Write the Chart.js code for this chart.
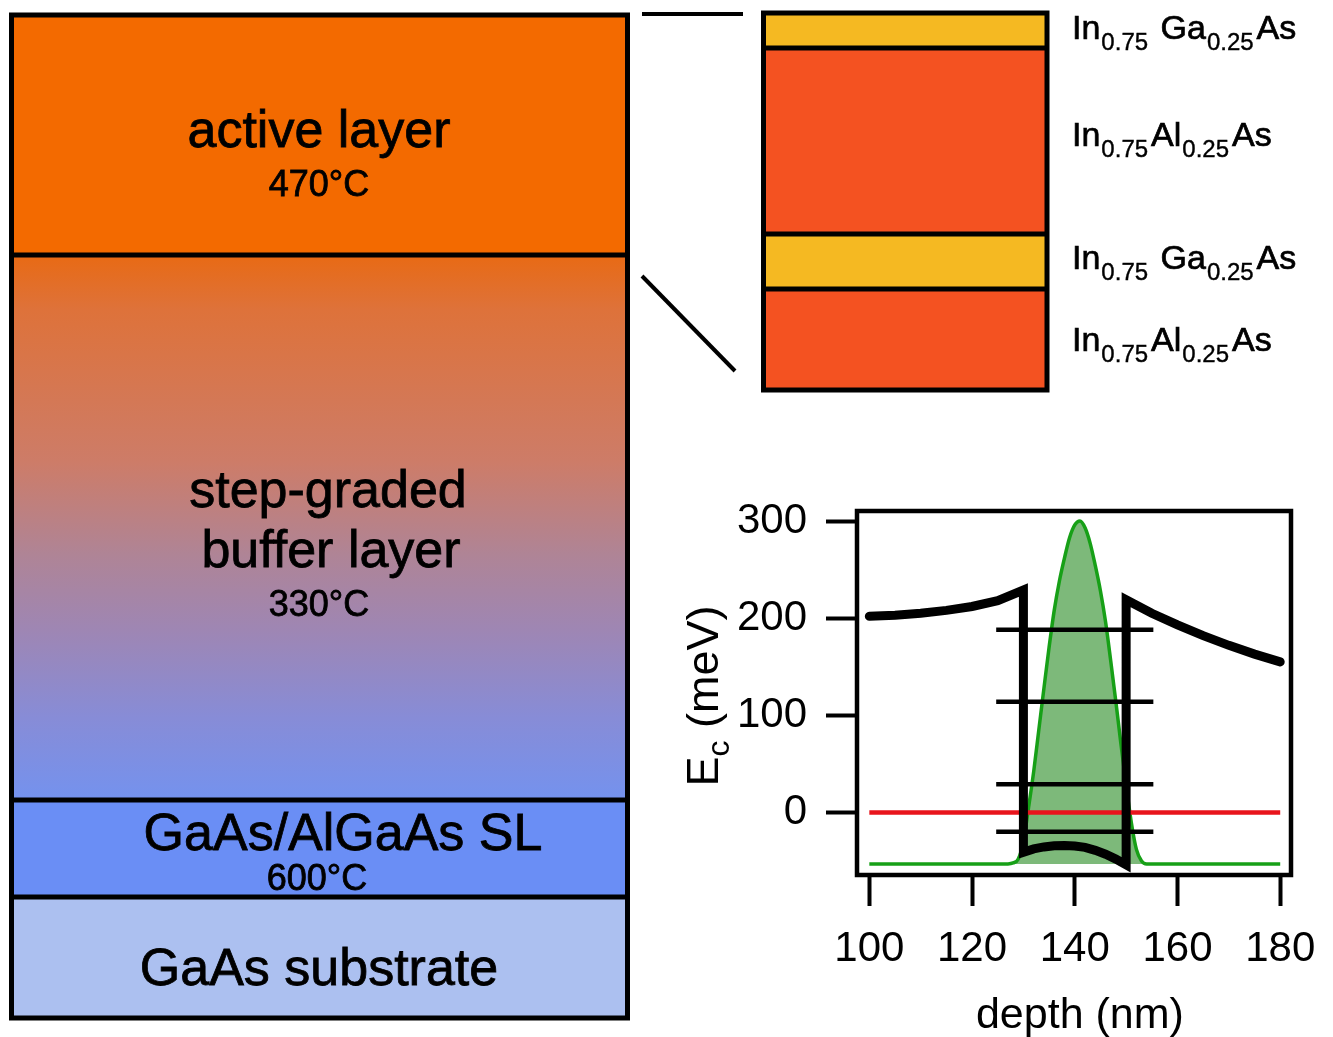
<!DOCTYPE html>
<html lang="en">
<head>
  <meta charset="UTF-8">
  <title>InAlAs/InGaAs heterostructure and conduction band</title>
  <script src="https://cdn.jsdelivr.net/npm/chart.js"></script>
  <style>
    html, body {
      margin: 0;
      padding: 0;
      background: #fff;
    }
    body {
      width: 1333px;
      height: 1037px;
      position: relative;
      overflow: hidden;
      font-family: "Liberation Sans", Arial, sans-serif;
      color: #000;
    }
    .wrap { position: absolute; }
    .lbl {
      position: absolute;
      transform: translate(-50%, -50%);
      line-height: 1;
      white-space: nowrap;
      -webkit-text-stroke: 0.8px #000;
    }
    .big { font-size: 52px; }
    .temp { font-size: 36px; }
    .formula {
      position: absolute;
      left: 1072px;
      font-size: 34px;
      line-height: 1;
      white-space: nowrap;
      -webkit-text-stroke: 0.7px #000;
    }
    .formula sub {
      font-size: 24px;
      vertical-align: -11px;
      margin: 0 3px 0 1px;
      -webkit-text-stroke: 0.4px #000;
    }
    svg { position: absolute; left: 0; top: 0; }
  </style>
</head>
<body>
  <div class="wrap" style="left:0;top:0;width:640px;height:1037px;"><canvas id="stackChart"></canvas></div>
  <div class="wrap" style="left:700px;top:0;width:400px;height:420px;"><canvas id="zoomChart"></canvas></div>
  <div class="wrap" style="left:640px;top:480px;width:693px;height:557px;"><canvas id="bandChart"></canvas></div>

  <svg width="1333" height="1037">
    <line x1="642" y1="14" x2="743" y2="14" stroke="#000" stroke-width="4"/>
    <line x1="642" y1="276" x2="735" y2="371" stroke="#000" stroke-width="4"/>
  </svg>

  <div class="lbl big" style="left:319px;top:129px;">active layer</div>
  <div class="lbl temp" style="left:319px;top:184px;">470°C</div>
  <div class="lbl big" style="left:328px;top:489px;">step-graded</div>
  <div class="lbl big" style="left:331px;top:549px;">buffer layer</div>
  <div class="lbl temp" style="left:319px;top:604px;">330°C</div>
  <div class="lbl big" style="left:343px;top:832px;">GaAs/AlGaAs SL</div>
  <div class="lbl temp" style="left:317px;top:878px;">600°C</div>
  <div class="lbl big" style="left:319px;top:967px;">GaAs substrate</div>

  <div class="formula" style="top:10px;">In<sub>0.75</sub> Ga<sub>0.25</sub>As</div>
  <div class="formula" style="top:117px;">In<sub>0.75</sub>Al<sub>0.25</sub>As</div>
  <div class="formula" style="top:240px;">In<sub>0.75</sub> Ga<sub>0.25</sub>As</div>
  <div class="formula" style="top:322px;">In<sub>0.75</sub>Al<sub>0.25</sub>As</div>

  <script>
    // ---- layer stacks (bottom to top, schematic thickness) ----
    const stackLayers = ['GaAs substrate', 'GaAs/AlGaAs SL', 'step-graded buffer layer', 'active layer'];
    const stackThickness = [121, 97, 545, 240];
    const stackColors = ['#acc0f0', '#6a8ef5', null, '#f36a00'];
    const bufferStops = [
      [0, 'rgb(232,106,20)'],
      [0.1, 'rgb(222,114,58)'],
      [0.38, 'rgb(205,124,104)'],
      [0.55, 'rgb(175,132,150)'],
      [0.69, 'rgb(158,134,180)'],
      [0.85, 'rgb(135,140,215)'],
      [1, 'rgb(116,146,238)']
    ];

    const zoomLayers = ['In0.75Al0.25As', 'In0.75Ga0.25As', 'In0.75Al0.25As', 'In0.75Ga0.25As'];
    const zoomThickness = [101, 55, 186, 35];
    const zoomColors = ['#f45221', '#f5b922', '#f45221', '#f5b922'];

    // ---- conduction band profile ----
    const xTicks = [100, 120, 140, 160, 180];
    const yTicks = [0, 100, 200, 300];

    const ecDepth = [100, 105, 110, 115, 120, 125, 130, 130, 132, 134, 136, 138, 140, 142, 144, 146, 148, 150, 150, 155, 160, 165, 170, 175, 180];
    const ecEnergy = [202, 203, 205, 208, 212, 218, 229, -41, -37.5, -35.5, -34.3, -34, -34.5, -36, -39, -43, -48, -54, 219, 205, 193, 182, 172, 163, 155];

    const levelEnergy = [188, 114, 29, -20];
    const levelDepth = [124.7, 155.3];

    const fermiDepth = [100, 180];
    const fermiEnergy = [0, 0];

    const waveBase = -53;
    const waveDepth = [100, 127, 128, 129, 130, 131, 132, 133, 134, 135, 136, 137, 138, 139, 140,
      141, 142, 143, 144, 145, 146, 147, 148, 149, 150, 151, 152, 153, 154, 180];
    const waveEnergy = [-53, -53, -52, -48, -30, 5, 42, 85, 128, 170, 208, 238, 262, 283, 296,
      300, 293, 277, 254, 228, 196, 156, 114, 70, 28, -10, -38, -50, -53, -53];

    const FONT = '"Liberation Sans", Arial, sans-serif';
    const pts = (xs, ys) => xs.map((x, i) => ({ x: x, y: ys[i] }));

    // outline + divider lines of a layer stack, taken from the stacked y scale
    const layerOutline = {
      id: 'layerOutline',
      afterDatasetsDraw(chart, args, opts) {
        const { ctx, chartArea: a, scales: { y } } = chart;
        ctx.save();
        ctx.strokeStyle = '#000';
        ctx.lineWidth = opts.width;
        let sum = 0;
        const n = chart.data.datasets.length;
        chart.data.datasets.forEach((ds, i) => {
          sum += ds.data[0];
          if (i < n - 1) {
            const py = y.getPixelForValue(sum);
            ctx.beginPath();
            ctx.moveTo(a.left, py);
            ctx.lineTo(a.right, py);
            ctx.stroke();
          }
        });
        ctx.strokeRect(a.left, a.top, a.width, a.height);
        ctx.restore();
      }
    };

    function stackOptions(total, pad, lineW) {
      return {
        responsive: true,
        maintainAspectRatio: false,
        animation: false,
        layout: { padding: pad },
        plugins: {
          legend: { display: false },
          tooltip: { enabled: false },
          layerOutline: { width: lineW }
        },
        scales: {
          x: { stacked: true, display: false },
          y: { stacked: true, display: false, min: 0, max: total }
        }
      };
    }

    const stackTotal = stackThickness.reduce((s, v) => s + v, 0);
    new Chart(document.getElementById('stackChart'), {
      type: 'bar',
      data: {
        labels: [''],
        datasets: stackLayers.map((name, i) => ({
          label: name,
          data: [stackThickness[i]],
          backgroundColor: stackColors[i] || ((c) => {
            const ch = c.chart;
            if (!ch.chartArea) return bufferStops[0][1];
            const y = ch.scales.y;
            const top = y.getPixelForValue(stackThickness[0] + stackThickness[1] + stackThickness[2]);
            const bot = y.getPixelForValue(stackThickness[0] + stackThickness[1]);
            const g = ch.ctx.createLinearGradient(0, top, 0, bot);
            bufferStops.forEach(([f, col]) => g.addColorStop(f, col));
            return g;
          }),
          borderWidth: 0,
          barPercentage: 1,
          categoryPercentage: 1
        }))
      },
      options: stackOptions(stackTotal, { left: 11.5, right: 12.5, top: 15, bottom: 19 }, 5),
      plugins: [layerOutline]
    });

    const zoomTotal = zoomThickness.reduce((s, v) => s + v, 0);
    new Chart(document.getElementById('zoomChart'), {
      type: 'bar',
      data: {
        labels: [''],
        datasets: zoomLayers.map((name, i) => ({
          label: name,
          data: [zoomThickness[i]],
          backgroundColor: zoomColors[i],
          borderWidth: 0,
          barPercentage: 1,
          categoryPercentage: 1
        }))
      },
      options: stackOptions(zoomTotal, { left: 63.5, right: 53, top: 13, bottom: 30 }, 5),
      plugins: [layerOutline]
    });

    // frame + axis titles for the band diagram
    const bandDecor = {
      id: 'bandDecor',
      afterDraw(chart) {
        const { ctx, chartArea: a } = chart;
        ctx.save();
        ctx.strokeStyle = '#000';
        ctx.lineWidth = 4.5;
        ctx.strokeRect(a.left, a.top, a.width, a.height);

        ctx.fillStyle = '#000';
        ctx.textBaseline = 'alphabetic';
        // x title
        ctx.font = '43px ' + FONT;
        ctx.textAlign = 'center';
        ctx.fillText('depth (nm)', chart.scales.x.getPixelForValue(141), a.bottom + 153);

        // y title, rotated, with subscript
        const big = '45px ' + FONT, small = '32px ' + FONT;
        const parts = [['E', big, 0], ['c', small, 11], [' (meV)', big, 0]];
        let total = 0;
        parts.forEach(p => { ctx.font = p[1]; total += ctx.measureText(p[0]).width; });
        ctx.translate(a.left - 139, (a.top + a.bottom) / 2 + 3);
        ctx.rotate(-Math.PI / 2);
        ctx.textAlign = 'left';
        let x = -total / 2;
        parts.forEach(p => {
          ctx.font = p[1];
          ctx.fillText(p[0], x, p[2]);
          x += ctx.measureText(p[0]).width;
        });
        ctx.restore();
      }
    };

    const axisCommon = {
      type: 'linear',
      border: { display: false },
      grid: { drawOnChartArea: false, drawTicks: true, tickLength: 31, tickWidth: 4, tickColor: '#000' },
      ticks: { color: '#000', font: { family: FONT, size: 42 }, maxRotation: 0 }
    };

    new Chart(document.getElementById('bandChart'), {
      type: 'line',
      data: {
        datasets: [
          {
            label: 'Ec',
            data: pts(ecDepth, ecEnergy),
            borderColor: '#000',
            borderWidth: 9,
            borderJoinStyle: 'miter',
            borderCapStyle: 'round',
            pointRadius: 0,
            tension: 0,
            fill: false
          },
          ...levelEnergy.map((e, i) => ({
            label: 'level ' + (i + 1),
            data: pts(levelDepth, [e, e]),
            borderColor: '#000',
            borderWidth: 4.5,
            pointRadius: 0,
            fill: false
          })),
          {
            label: 'EF',
            data: pts(fermiDepth, fermiEnergy),
            borderColor: '#e8141c',
            borderWidth: 4.5,
            pointRadius: 0,
            fill: false
          },
          {
            label: '|psi|^2',
            data: pts(waveDepth, waveEnergy),
            borderColor: '#17a017',
            borderWidth: 3.5,
            backgroundColor: '#7db97a',
            pointRadius: 0,
            cubicInterpolationMode: 'monotone',
            fill: { value: waveBase }
          }
        ]
      },
      options: {
        responsive: true,
        maintainAspectRatio: false,
        animation: false,
        layout: { padding: { left: 0, right: 42, top: 31, bottom: 0 } },
        plugins: {
          legend: { display: false },
          tooltip: { enabled: false }
        },
        scales: {
          x: {
            ...axisCommon,
            min: 97.6,
            max: 182.1,
            afterBuildTicks: s => { s.ticks = xTicks.map(v => ({ value: v })); },
            afterFit: s => { s.height = 162; s.paddingLeft = 0; s.paddingRight = 0; },
            ticks: { ...axisCommon.ticks, padding: 18 }
          },
          y: {
            ...axisCommon,
            min: -64.4,
            max: 310.3,
            afterBuildTicks: s => { s.ticks = yTicks.map(v => ({ value: v })); },
            afterFit: s => { s.width = 217; s.paddingTop = 0; s.paddingBottom = 0; },
            ticks: { ...axisCommon.ticks, padding: 19 }
          }
        }
      },
      plugins: [bandDecor]
    });
  </script>
</body>
</html>
